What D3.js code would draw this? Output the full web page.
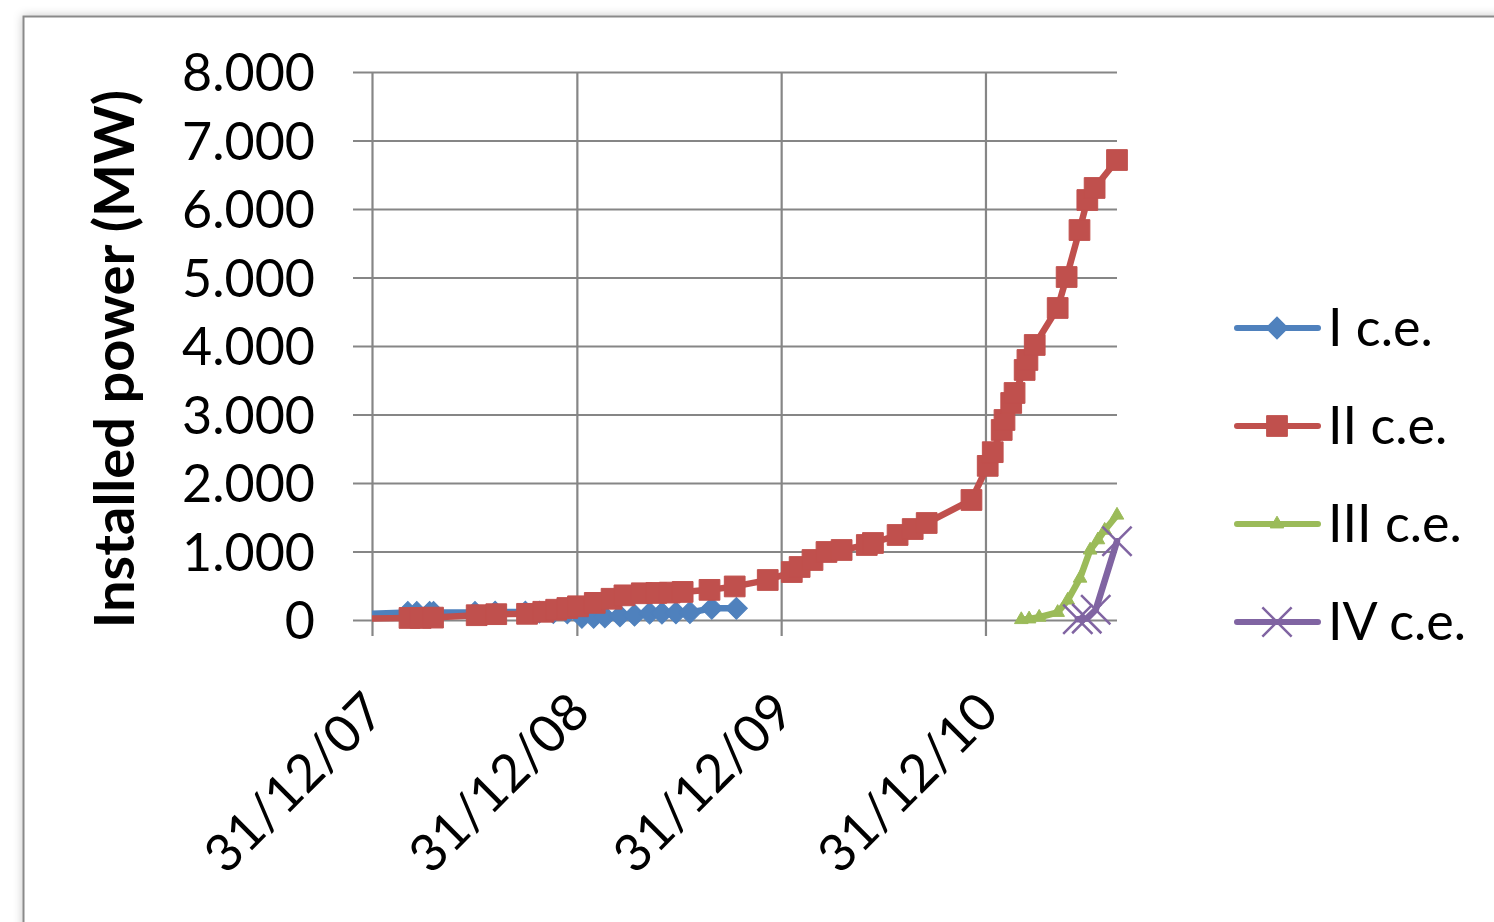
<!DOCTYPE html>
<html>
<head>
<meta charset="utf-8">
<script src="https://cdn.jsdelivr.net/npm/d3@7"></script>
<style>
  html, body { margin: 0; padding: 0; background: #ffffff; }
  svg { display: block; font-family: Lato, "Open Sans", sans-serif; }
</style>
</head>
<body>
<div class="chart"></div>
<script>
// series names (legend)
const seriesNames = ["I c.e.", "II c.e.", "III c.e.", "IV c.e."];

// I c.e.
const dates1 = ["2007-12-01","2008-03-04","2008-03-20","2008-04-12","2008-04-19","2008-07-02","2008-08-07",
  "2008-09-30","2008-10-25","2008-11-19","2008-12-14","2009-01-09","2009-01-30","2009-02-19","2009-03-18",
  "2009-04-13","2009-05-10","2009-06-01","2009-06-26","2009-07-21","2009-08-29","2009-10-12"];
const values1 = [85, 110, 110, 110, 110, 110, 115, 115, 115, 110, 105, 40, 40, 45, 60, 70, 100, 100, 105, 110, 170, 170];

// II c.e.
const dates2 = ["2007-12-01","2008-03-07","2008-03-27","2008-04-18","2008-07-05","2008-08-09","2008-10-03",
  "2008-11-01","2008-11-24","2008-12-14","2009-01-02","2009-02-01","2009-03-03","2009-03-26","2009-04-26",
  "2009-05-22","2009-06-15","2009-07-08","2009-08-25","2009-10-09","2009-12-07","2010-01-19","2010-02-02",
  "2010-02-25","2010-03-22","2010-04-18","2010-06-02","2010-06-13","2010-07-27","2010-08-23","2010-09-17",
  "2010-12-06","2011-01-04","2011-01-13","2011-01-29","2011-02-03","2011-02-15","2011-02-21","2011-03-11",
  "2011-03-16","2011-03-29","2011-05-09","2011-05-25","2011-06-17","2011-07-01","2011-07-14","2011-08-23"];
const values2 = [20, 30, 30, 35, 70, 85, 90, 120, 150, 175, 200, 250, 310, 360, 390, 395, 400, 410, 440, 490,
  584, 700, 774, 876, 993, 1022, 1095, 1124, 1241, 1328, 1416, 1752, 2250, 2450, 2774, 2920, 3168, 3314,
  3650, 3796, 4015, 4555, 5007, 5693, 6131, 6307, 6715];

// III c.e.
const dates3 = ["2011-03-05","2011-03-19","2011-04-06","2011-05-09","2011-05-27","2011-06-18","2011-07-06",
  "2011-07-20","2011-08-01","2011-08-23"];
const values3 = [5, 15, 40, 110, 290, 610, 1020, 1170, 1310, 1530];

// IV c.e.
const dates4 = ["2011-06-14","2011-06-30","2011-07-16","2011-08-23"];
const values4 = [10, 20, 150, 1150];

// axes
const xStart = "2007-12-31", xEnd = "2011-08-23";
const xTicks = ["2007-12-31","2008-12-31","2009-12-31","2010-12-31"];
const yTicks = [0, 1000, 2000, 3000, 4000, 5000, 6000, 7000, 8000];
const yTitle = "Installed power (MW)";

const colors = ["#4F81BD", "#C0504D", "#9BBB59", "#8064A2"];
const W = 1494, H = 922;
const parse = d3.timeParse("%Y-%m-%d");

const svg = d3.select(".chart").append("svg")
  .attr("width", W).attr("height", H);

// soft shadow around the chart frame
const defs = svg.append("defs");
const f = defs.append("filter").attr("id", "shadow")
  .attr("x", "-5%").attr("y", "-5%").attr("width", "110%").attr("height", "110%");
f.append("feDropShadow").attr("dx", 0).attr("dy", 0).attr("stdDeviation", 5)
  .attr("flood-color", "#000").attr("flood-opacity", 0.22);

// plot area clip (points before the first date are cut at the axis)
defs.append("clipPath").attr("id", "plot")
  .append("rect").attr("x", 372).attr("y", 0).attr("width", 1494 - 372).attr("height", 922);

svg.append("rect")
  .attr("x", 23.5).attr("y", 16.5).attr("width", W + 20).attr("height", H + 20)
  .attr("fill", "#fff").attr("stroke", "#8a8a8a").attr("stroke-width", 2)
  .attr("filter", "url(#shadow)");

const x = d3.scaleTime()
  .domain([parse(xStart), parse(xEnd)])
  .range([372, 1117]);
const y = d3.scaleLinear()
  .domain([0, 8000])
  .range([620, 72]);

const fmt = d3.formatLocale({decimal: ",", thousands: ".", grouping: [3], currency: ["", ""]}).format(",d");

const gridColor = "#868686";

// horizontal gridlines + y ticks
const gy = svg.append("g")
  .attr("transform", "translate(372,0)")
  .call(d3.axisLeft(y).tickValues(yTicks).tickSize(-(1117 - 372)).tickFormat(fmt).tickPadding(57));
gy.select(".domain").remove();
gy.selectAll(".tick line").attr("stroke", gridColor).attr("stroke-width", 2.2).attr("x1", -19);
gy.selectAll(".tick text")
  .attr("fill", "#000").attr("font-size", 52).attr("font-family", "Lato, sans-serif")
  .attr("dy", "0.36em");

// vertical gridlines + x ticks
const gx = svg.append("g")
  .attr("transform", "translate(0,620)")
  .call(d3.axisBottom(x).tickValues(xTicks.map(parse)).tickSize(-(620 - 72))
    .tickFormat(d3.timeFormat("%d/%m/%y")));
gx.select(".domain").remove();
gx.selectAll(".tick line").attr("stroke", gridColor).attr("stroke-width", 2.2).attr("y1", 16);
gx.selectAll(".tick text")
  .attr("fill", "#000").attr("font-size", 52).attr("font-family", "Lato, sans-serif")
  .attr("text-anchor", "end")
  .attr("transform", "translate(2,82) rotate(-45)")
  .attr("y", 0).attr("dy", "0.35em");

// y title
svg.append("text")
  .attr("transform", "translate(134,359) rotate(-90)")
  .attr("text-anchor", "middle")
  .attr("font-size", 56).attr("font-weight", "bold")
  .attr("font-family", "Lato, sans-serif")
  .text(yTitle);

const series = [
  {name: seriesNames[0], dates: dates1, values: values1, color: colors[0], mark: "diamond"},
  {name: seriesNames[1], dates: dates2, values: values2, color: colors[1], mark: "square"},
  {name: seriesNames[2], dates: dates3, values: values3, color: colors[2], mark: "triangle"},
  {name: seriesNames[3], dates: dates4, values: values4, color: colors[3], mark: "times"}
];

function markerPath(mark) {
  if (mark === "diamond") return d3.symbol(d3.symbolSquare, 240)();
  if (mark === "square") return d3.symbol(d3.symbolSquare, 430)();
  if (mark === "triangle") return d3.symbol(d3.symbolTriangle, 80)();
  return d3.symbol(d3.symbolTimes, 560)();
}

function drawMarker(g, mark, color) {
  const p = g.append("path").attr("d", markerPath(mark));
  if (mark === "times") {
    p.attr("fill", "none").attr("stroke", color).attr("stroke-width", 2.5);
  } else {
    p.attr("fill", color).attr("stroke", color).attr("stroke-width", 1);
  }
  if (mark === "diamond") p.attr("transform", "rotate(45)");
}

const line = d3.line().x(d => x(d.date)).y(d => y(d.value));

series.forEach(s => {
  const pts = s.dates.map((d, i) => ({date: parse(d), value: s.values[i]}));
  const g = svg.append("g").attr("clip-path", "url(#plot)");
  g.append("path")
    .datum(pts)
    .attr("d", line)
    .attr("fill", "none")
    .attr("stroke", s.color)
    .attr("stroke-width", 6.5)
    .attr("stroke-linejoin", "round")
    .attr("stroke-linecap", "round");
  g.selectAll("g.m")
    .data(pts.filter(d => d.date >= x.domain()[0]))
    .join("g")
    .attr("class", "m")
    .attr("transform", d => `translate(${x(d.date)},${y(d.value)})`)
    .each(function () { drawMarker(d3.select(this), s.mark, s.color); });
});

// legend
const legend = svg.append("g");
series.forEach((s, i) => {
  const ly = 328 + i * 98;
  const lg = legend.append("g");
  lg.append("line")
    .attr("x1", 1237).attr("x2", 1318).attr("y1", ly).attr("y2", ly)
    .attr("stroke", s.color).attr("stroke-width", 6).attr("stroke-linecap", "round");
  const mg = lg.append("g").attr("transform", `translate(1277,${ly})`);
  drawMarker(mg, s.mark, s.color);
  lg.append("text")
    .attr("x", 1328).attr("y", ly).attr("dy", "0.35em")
    .attr("font-size", 52).attr("font-family", "Lato, sans-serif")
    .text(s.name);
});
</script>
</body>
</html>
